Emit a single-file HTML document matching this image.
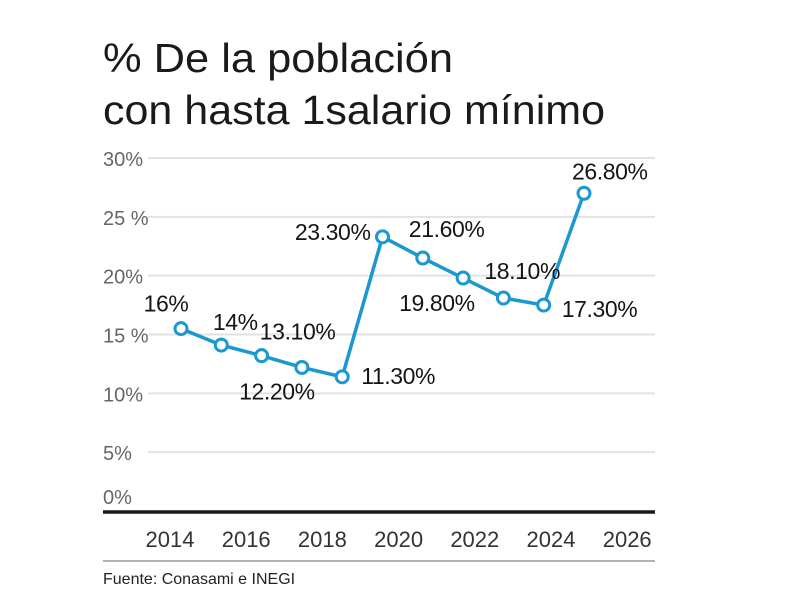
<!DOCTYPE html>
<html><head><meta charset="utf-8"><style>
html,body{margin:0;padding:0;background:#fff;}
svg{display:block;font-family:"Liberation Sans",sans-serif;}
</style></head><body>
<svg id="chart" width="800" height="599" viewBox="0 0 800 599">
<text x="103" y="72" font-size="41" fill="#1a1a1a" textLength="350" lengthAdjust="spacingAndGlyphs">% De la población</text>
<text x="103" y="124" font-size="41" fill="#1a1a1a" textLength="502" lengthAdjust="spacingAndGlyphs">con hasta 1salario mínimo</text>
<g id="grid"></g>
<g id="yticks"></g>
<line x1="103" y1="512" x2="655" y2="512" stroke="#1a1a1a" stroke-width="3.5"/>
<g id="xticks"></g>
<g id="series"></g>
<g id="labels"></g>
<line x1="103" y1="561" x2="655" y2="561" stroke="#999" stroke-width="1.5"/>
<text x="103" y="584" font-size="16" fill="#222">Fuente: Conasami e INEGI</text>
</svg>
<script>
const yTickValues=[0,5,10,15,20,25,30];
const yTickLabels=["0%","5%","10%","15 %","20%","25 %","30%"];
const xTickLabels=["2014","2016","2018","2020","2022","2024","2026"];
const categories=["2015","2016","2017","2018","2019","2020","2021","2022","2023","2024","2025"];
const values=[15.5,14.1,13.2,12.2,11.4,23.3,21.5,19.8,18.1,17.5,27.0];
const valueLabels=["16%","14%","13.10%","12.20%","11.30%","23.30%","21.60%","19.80%","18.10%","17.30%","26.80%"];
const NS="http://www.w3.org/2000/svg";
function y(v){return 511-v*(353/30);}
function xp(i){return 181+i*40.3;}
function xt(i){return 170+i*76.2;}
function mk(t,a,p){const e=document.createElementNS(NS,t);for(const k in a)e.setAttribute(k,a[k]);p.appendChild(e);return e;}
const grid=document.getElementById('grid'),yt=document.getElementById('yticks'),xtG=document.getElementById('xticks'),ser=document.getElementById('series'),lab=document.getElementById('labels');
yTickValues.forEach((v,i)=>{
 if(v>0){const l=mk('line',{x1:148,x2:655,y1:y(v),y2:y(v),stroke:'#e2e2e2','stroke-width':2},grid);
 
 }
 const t=mk('text',{x:103,y:y(v)+(v===0?-7:8),'font-size':20,fill:'#666'},yt);
 t.textContent=yTickLabels[i];
 
 
});
xTickLabels.forEach((s,i)=>{
 const t=mk('text',{x:xt(i),y:547,'font-size':22,fill:'#333','text-anchor':'middle'},xtG);
 t.textContent=s;
 
 
});
const pts=values.map((v,i)=>xp(i)+','+y(v)).join(' ');
const pl=mk('polyline',{points:pts,fill:'none',stroke:'#1b98d0','stroke-width':3.5,'stroke-linejoin':'round'},ser);


values.forEach((v,i)=>{
 const c=mk('circle',{cx:xp(i),cy:y(v),r:6,fill:'#fff',stroke:'#1b98d0','stroke-width':3},ser);
 
 
});
// label offsets relative to the point: [dx, dy, anchor]
const offs=[[-15,-17,'middle'],[14,-15,'middle'],[36,-16,'middle'],[-25,32,'middle'],[19,7,'start'],[-12,3,'end'],[-14,-21,'start'],[-64,33,'start'],[-19,-19,'start'],[18,12,'start'],[-12,-14,'start']];
values.forEach((v,i)=>{
 const o=offs[i];
 const t=mk('text',{x:xp(i)+o[0],y:y(v)+o[1],'font-size':23,fill:'#151515','text-anchor':o[2],'letter-spacing':'-0.4'},lab);
 t.textContent=valueLabels[i];
 
 
});
</script>
</body></html>
